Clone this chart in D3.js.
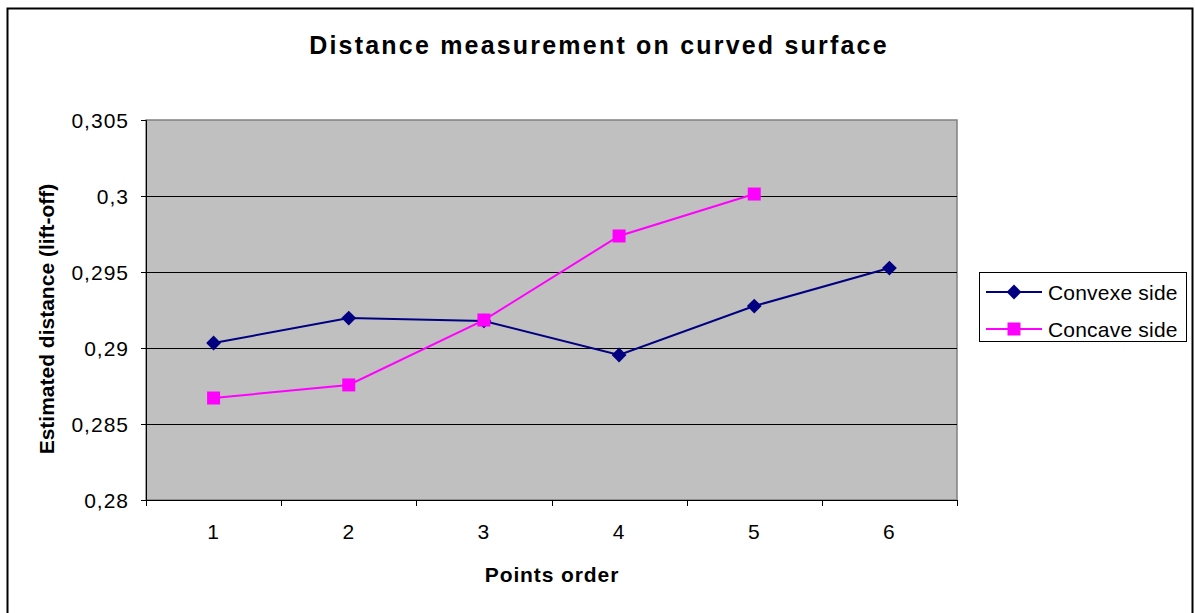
<!DOCTYPE html>
<html>
<head>
<meta charset="utf-8">
<title>Distance measurement on curved surface</title>
<style>
body { margin: 0; background: #fff; }
text { font-family: "Liberation Sans", Arial, sans-serif; fill: #000; }
.tick text { font-size: 21px; letter-spacing: 1px; }
</style>
</head>
<body>
<script src="https://cdn.jsdelivr.net/npm/d3@7/dist/d3.min.js"></script>
<script>

// points along the surface
var points = ["1", "2", "3", "4", "5", "6"];

// estimated lift-off distance
var convexe = [0.29033, 0.29197, 0.29178, 0.28954, 0.29276, 0.29526];
var concave = [0.28671, 0.28757, 0.29184, 0.29737, 0.30013];

var yTicks = [0.28, 0.285, 0.29, 0.295, 0.3, 0.305];
var yTickLabels = ["0,28", "0,285", "0,29", "0,295", "0,3", "0,305"];

var series = [
  {name: "Convexe side", values: convexe, color: "#000080", marker: "diamond"},
  {name: "Concave side", values: concave, color: "#ff00ff", marker: "square"}
];

var width = 1195,
    height = 613;

var plot = {left: 146, top: 120, right: 957, bottom: 500};

var svg = d3.select("body").append("svg")
    .attr("width", width)
    .attr("height", height);

// outer frame
svg.append("rect")
    .attr("x", 7.5)
    .attr("y", 8.5)
    .attr("width", 1185)
    .attr("height", 620)
    .attr("fill", "#fff")
    .attr("stroke", "#000")
    .attr("stroke-width", 2);

var x = d3.scaleBand()
    .domain(points)
    .range([plot.left, plot.right]);

var y = d3.scaleLinear()
    .domain([0.28, 0.305])
    .range([plot.bottom, plot.top]);

// plot background
svg.append("rect")
    .attr("x", plot.left)
    .attr("y", plot.top)
    .attr("width", plot.right - plot.left)
    .attr("height", plot.bottom - plot.top)
    .attr("fill", "#c0c0c0")
    .attr("stroke", "#808080")
    .attr("stroke-width", 1.5);

// gridlines
svg.append("g")
    .selectAll("line")
    .data(yTicks.slice(1, 5))
    .enter()
    .append("line")
    .attr("x1", plot.left)
    .attr("x2", plot.right)
    .attr("y1", function(d) { return Math.round(y(d)) + 0.5; })
    .attr("y2", function(d) { return Math.round(y(d)) + 0.5; })
    .attr("stroke", "#000")
    .attr("stroke-width", 1);

// y axis
var yAxis = svg.append("g")
    .attr("transform", "translate(" + plot.left + ",0)")
    .call(d3.axisLeft(y)
        .tickValues(yTicks)
        .tickFormat(function(d, i) { return yTickLabels[i]; })
        .tickSize(5)
        .tickPadding(12));
yAxis.select(".domain").attr("stroke", "#000");
yAxis.selectAll(".tick line").attr("stroke", "#000");
yAxis.selectAll(".tick text").attr("dy", "0.36em");

// x axis, ticks sit between categories
var xAxis = svg.append("g")
    .attr("transform", "translate(0," + plot.bottom + ")")
    .call(d3.axisBottom(x).tickSize(0).tickPadding(24));
xAxis.select(".domain").attr("stroke", "#000");
xAxis.selectAll(".tick line").remove();

svg.append("g")
    .selectAll("line")
    .data(points.map(function(p) { return x(p); }).concat([plot.right]))
    .enter()
    .append("line")
    .attr("x1", function(d) { return Math.round(d) + 0.5; })
    .attr("x2", function(d) { return Math.round(d) + 0.5; })
    .attr("y1", plot.bottom)
    .attr("y2", plot.bottom + 6)
    .attr("stroke", "#000");

var line = d3.line()
    .x(function(d, i) { return x(points[i]) + x.bandwidth() / 2; })
    .y(function(d) { return y(d); });

function marker(sel, kind) {
  if (kind === "diamond") {
    sel.attr("d", d3.symbol().type(d3.symbolSquare).size(110))
       .attr("transform", function() {
         return d3.select(this).attr("transform") + " rotate(45)";
       });
  } else {
    sel.attr("d", d3.symbol().type(d3.symbolSquare).size(169));
  }
}

series.forEach(function(s) {
  svg.append("path")
      .datum(s.values)
      .attr("d", line)
      .attr("fill", "none")
      .attr("stroke", s.color)
      .attr("stroke-width", 2);

  svg.append("g")
      .selectAll("path")
      .data(s.values)
      .enter()
      .append("path")
      .attr("transform", function(d, i) {
        return "translate(" + (x(points[i]) + x.bandwidth() / 2) + "," + y(d) + ")";
      })
      .attr("fill", s.color)
      .call(marker, s.marker);
});

// title
svg.append("text")
    .attr("x", 599)
    .attr("y", 54)
    .attr("text-anchor", "middle")
    .style("font-size", "25px")
    .style("font-weight", "bold")
    .style("letter-spacing", "2.2px")
    .text("Distance measurement on curved surface");

svg.append("text")
    .attr("x", 552)
    .attr("y", 582)
    .attr("text-anchor", "middle")
    .style("font-size", "21px")
    .style("font-weight", "bold")
    .style("letter-spacing", "0.9px")
    .text("Points order");

svg.append("text")
    .attr("transform", "translate(54,319) rotate(-90)")
    .attr("text-anchor", "middle")
    .style("font-size", "21px")
    .style("font-weight", "bold")
    .text("Estimated distance (lift-off)");

// legend
var legend = svg.append("g");
legend.append("rect")
    .attr("x", 979.5)
    .attr("y", 272.5)
    .attr("width", 207)
    .attr("height", 69)
    .attr("fill", "#fff")
    .attr("stroke", "#000");

series.forEach(function(s, i) {
  var ly = 292 + i * 37;
  legend.append("line")
      .attr("x1", 986)
      .attr("x2", 1042)
      .attr("y1", ly)
      .attr("y2", ly)
      .attr("stroke", s.color)
      .attr("stroke-width", 2);
  legend.append("path")
      .attr("transform", "translate(1014," + ly + ")")
      .attr("fill", s.color)
      .call(marker, s.marker);
  legend.append("text")
      .attr("x", 1048)
      .attr("y", ly)
      .attr("dy", "0.36em")
      .style("font-size", "21px")
      .style("letter-spacing", "0.2px")
      .text(s.name);
});

</script>
</body>
</html>
